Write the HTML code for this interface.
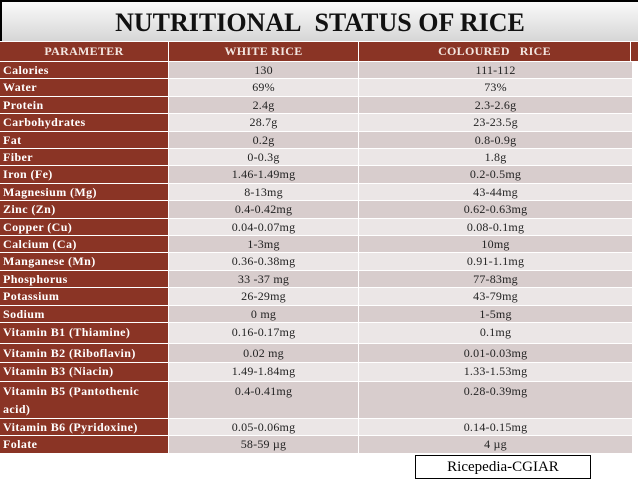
<!DOCTYPE html>
<html><head><meta charset="utf-8"><style>
body{margin:0;width:638px;height:479px;background:#fff;position:relative;overflow:hidden;font-family:"Liberation Serif",serif;}
#title{position:absolute;left:0;top:0;width:638px;height:41px;border-top:2px solid #000;border-left:2px solid #000;box-sizing:border-box;background:linear-gradient(#fafafa,#d6d6d6);text-align:center;font-weight:bold;font-size:26px;line-height:41px;color:#111;}
.c{position:absolute;box-sizing:border-box;font-size:12px;color:#222;white-space:nowrap;}
.h{background:#8a3425;color:#f3e6e0;font-weight:bold;text-align:center;font-size:12px;letter-spacing:0.3px}
.p{background:#8a3425;color:#fff;font-weight:bold;padding-left:3px;letter-spacing:0.4px}
.v{text-align:center;letter-spacing:0.2px}
#src{position:absolute;left:415px;top:455px;width:176px;height:24px;border:1.5px solid #000;box-sizing:border-box;text-align:center;font-size:15px;line-height:22px;}
</style></head><body>
<div id="title">NUTRITIONAL&nbsp; STATUS OF RICE</div>
<div id="tbl"></div>
<div id="src">Ricepedia-CGIAR</div>
<script>
const params=[" Calories"," Water","Protein","Carbohydrates","Fat","Fiber","Iron (Fe)","Magnesium (Mg)","Zinc (Zn)","Copper (Cu)","Calcium (Ca)","Manganese (Mn)","Phosphorus","Potassium","Sodium","Vitamin  B1 (Thiamine)","Vitamin  B2 (Riboflavin)","Vitamin B3 (Niacin)","Vitamin  B5 (Pantothenic<br>acid)","Vitamin  B6 (Pyridoxine)","Folate"];
const white=["130","69%","2.4g","28.7g","0.2g","0-0.3g","1.46-1.49mg","8-13mg","0.4-0.42mg","0.04-0.07mg","1-3mg","0.36-0.38mg","33 -37 mg","26-29mg","0 mg","0.16-0.17mg","0.02 mg","1.49-1.84mg","0.4-0.41mg","0.05-0.06mg","58-59 µg"];
const coloured=["111-112","73%","2.3-2.6g","23-23.5g","0.8-0.9g","1.8g","0.2-0.5mg","43-44mg","0.62-0.63mg","0.08-0.1mg","10mg","0.91-1.1mg","77-83mg","43-79mg","1-5mg","0.1mg","0.01-0.03mg","1.33-1.53mg","0.28-0.39mg","0.14-0.15mg","4 µg"];
const tbl=document.getElementById('tbl');
function cell(cls,x,y,w,h,html,lh){
  const d=document.createElement('div');
  d.className='c '+cls;
  d.style.cssText=`left:${x}px;top:${y}px;width:${w}px;height:${h}px;line-height:${lh}px;`;
  d.innerHTML=html;
  tbl.appendChild(d);return d;
}
const cols=[[0,168],[169,189],[359,271]];
let hd=["PARAMETER","WHITE RICE","COLOURED&nbsp;&nbsp; RICE"];
["parameter-header","white-rice-header","coloured-rice-header"].forEach((n,i)=>{
  const d=cell('h',cols[i][0],42,cols[i][1],19,hd[i],19);
  
  
});
const ex=cell('h',631,42,7,19,'',19);


let y=62;
for(let i=0;i<params.length;i++){
  let h=17.4, lh=17;
  if(i==15){h=21;lh=19;} if(i==16){h=19;lh=18;} if(i==17){h=18.5;lh=17;}
  if(i==18){h=37;lh=18;} if(i==19){h=17.5;lh=17;} if(i==20){h=18;lh=17;}
  const bg=(i%2==0)?'#d8cdcd':'#ebe6e6';
  const a=cell('p',0,y,168,h-1,params[i],lh);
  
  
  const b=cell('v',169,y,189,h-1,white[i],lh);b.style.background=bg;
  
  
  const c=cell('v',359,y,273,h-1,coloured[i],lh);c.style.background=bg;
  
  
  y+=h;
}
</script>
</body></html>
